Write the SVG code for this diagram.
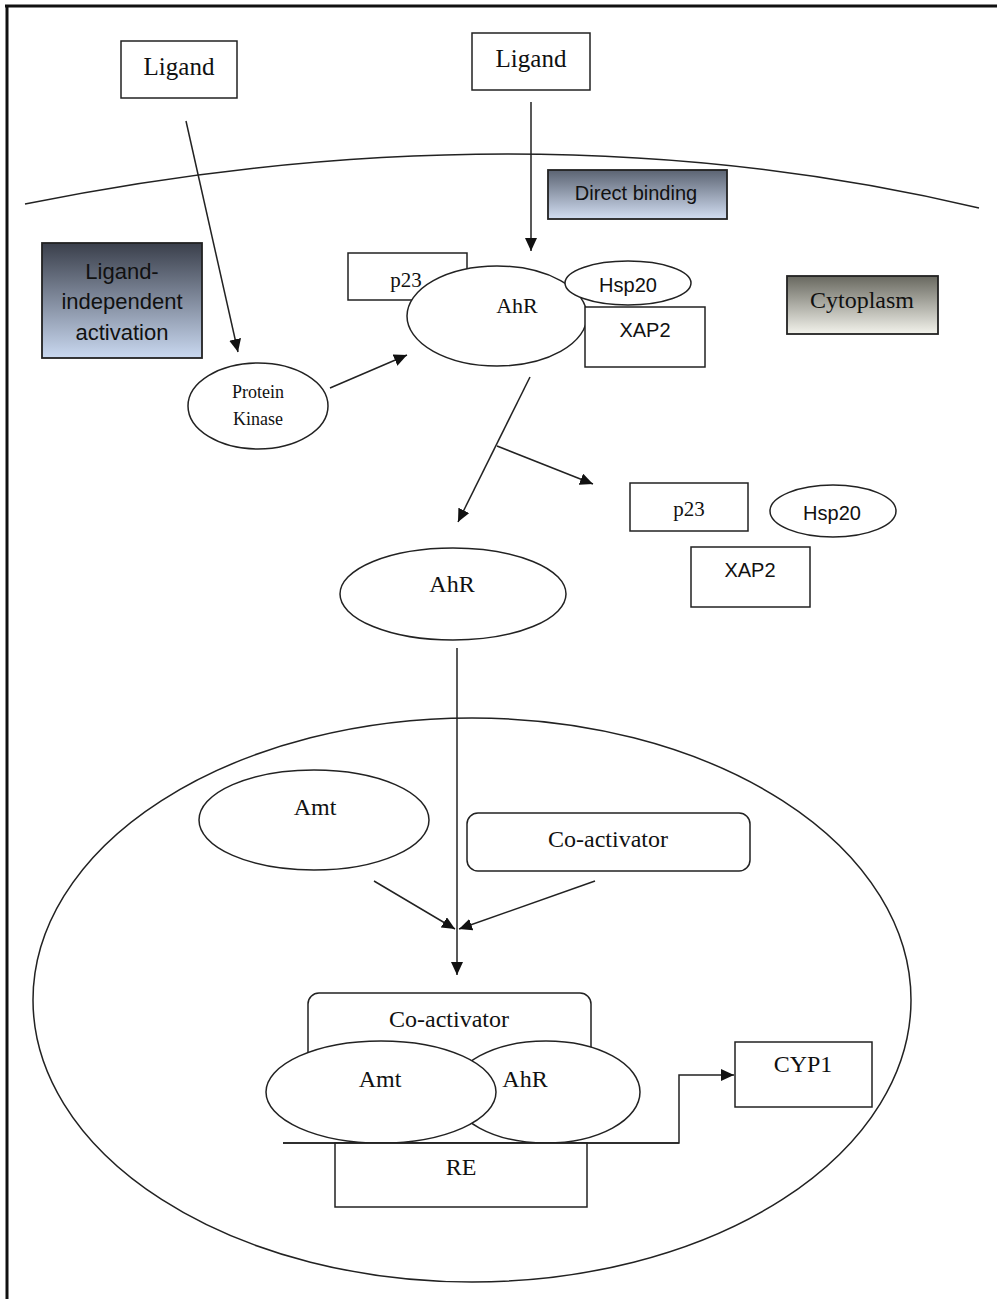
<svg xmlns="http://www.w3.org/2000/svg" width="997" height="1299" viewBox="0 0 997 1299">
<style>
.s{font-family:"Liberation Serif","Times New Roman",serif;fill:#111;text-anchor:middle}
.a{font-family:"Liberation Sans",Arial,sans-serif;fill:#111;text-anchor:middle}
.sh{fill:#fff;stroke:#222;stroke-width:1.5}
.ln{fill:none;stroke:#222;stroke-width:1.5}
.gb{stroke:#222;stroke-width:1.8}
</style>
<defs>
<marker id="ah" markerUnits="userSpaceOnUse" markerWidth="14" markerHeight="12" refX="13" refY="6" orient="auto">
<path d="M0,0 L13,6 L0,12 z" fill="#111"/>
</marker>
<linearGradient id="gBlue" x1="0" y1="0" x2="0" y2="1">
<stop offset="0" stop-color="#3a3f4b"/>
<stop offset="1" stop-color="#c9d8f0"/>
</linearGradient>
<linearGradient id="gBlue2" x1="0" y1="0" x2="0" y2="1">
<stop offset="0" stop-color="#5b6372"/>
<stop offset="1" stop-color="#d2def2"/>
</linearGradient>
<linearGradient id="gGrey" x1="0" y1="0" x2="0" y2="1">
<stop offset="0" stop-color="#68685f"/>
<stop offset="1" stop-color="#f3f3ec"/>
</linearGradient>
</defs>
<rect x="0" y="0" width="997" height="1299" fill="#fff"/>
<g id="frame">
<line x1="5" y1="6" x2="997" y2="6" stroke="#111" stroke-width="3"/>
<line x1="7" y1="5" x2="7" y2="1299" stroke="#111" stroke-width="3"/>
</g>
<g id="membrane"><path class="ln" d="M25 204 Q531 102 979 208" stroke-width="2"/></g>
<g id="nucleus"><ellipse class="ln" cx="472" cy="1000" rx="439" ry="282" stroke-width="1.8"/></g>

<g id="connectors">
<line class="ln" x1="186" y1="121" x2="238" y2="352" marker-end="url(#ah)"/>
<line class="ln" x1="531" y1="102" x2="531" y2="251" marker-end="url(#ah)"/>
<line class="ln" x1="330" y1="388" x2="407" y2="355" marker-end="url(#ah)"/>
<line class="ln" x1="530" y1="377" x2="458" y2="522" marker-end="url(#ah)"/>
<line class="ln" x1="497" y1="446" x2="593" y2="484" marker-end="url(#ah)"/>
<line class="ln" x1="457" y1="648" x2="457" y2="975" marker-end="url(#ah)"/>
<line class="ln" x1="374" y1="881" x2="455" y2="929" marker-end="url(#ah)"/>
<line class="ln" x1="595" y1="881" x2="459" y2="929" marker-end="url(#ah)"/>
<path class="ln" d="M283 1143 H679 V1075 H734" marker-end="url(#ah)"/>
</g>

<g id="ligand1"><rect class="sh" x="121" y="41" width="116" height="57"/><text class="s" x="179" y="75" font-size="25">Ligand</text></g>
<g id="ligand2"><rect class="sh" x="472" y="33" width="118" height="57"/><text class="s" x="531" y="67" font-size="25">Ligand</text></g>
<g id="direct-binding"><rect class="gb" x="548" y="170" width="179" height="49" fill="url(#gBlue2)"/><text class="a" x="636" y="200" font-size="20">Direct binding</text></g>
<g id="ligand-independent"><rect class="gb" x="42" y="243" width="160" height="115" fill="url(#gBlue)"/>
<text class="a" x="122" y="279" font-size="22">Ligand-</text>
<text class="a" x="122" y="309" font-size="22">independent</text>
<text class="a" x="122" y="340" font-size="22">activation</text></g>
<g id="cytoplasm"><rect class="gb" x="787" y="276" width="151" height="58" fill="url(#gGrey)"/><text class="s" x="862" y="308" font-size="24">Cytoplasm</text></g>

<g id="p23-top"><rect class="sh" x="348" y="253" width="119" height="47"/><text class="s" x="406" y="287" font-size="21">p23</text></g>
<g id="ahr-top"><ellipse class="sh" cx="497" cy="316" rx="90" ry="50"/><text class="s" x="517" y="313" font-size="22">AhR</text></g>
<g id="hsp20-top"><ellipse class="sh" cx="628" cy="283" rx="63" ry="22"/><text class="a" x="628" y="292" font-size="20">Hsp20</text></g>
<g id="xap2-top"><rect class="sh" x="585" y="307" width="120" height="60"/><text class="a" x="645" y="337" font-size="20">XAP2</text></g>

<g id="protein-kinase"><ellipse class="sh" cx="258" cy="406" rx="70" ry="43"/>
<text class="s" x="258" y="398" font-size="18">Protein</text>
<text class="s" x="258" y="425" font-size="18">Kinase</text></g>

<g id="p23-free"><rect class="sh" x="630" y="483" width="118" height="48"/><text class="s" x="689" y="516" font-size="21">p23</text></g>
<g id="hsp20-free"><ellipse class="sh" cx="833" cy="511" rx="63" ry="26"/><text class="a" x="832" y="520" font-size="20">Hsp20</text></g>
<g id="xap2-free"><rect class="sh" x="691" y="547" width="119" height="60"/><text class="a" x="750" y="577" font-size="20">XAP2</text></g>

<g id="ahr-mid"><ellipse class="sh" cx="453" cy="594" rx="113" ry="46"/><text class="s" x="452" y="592" font-size="24">AhR</text></g>

<g id="arnt-upper"><ellipse class="sh" cx="314" cy="820" rx="115" ry="50"/><text class="s" x="315" y="815" font-size="24">Amt</text></g>
<g id="coactivator-upper"><rect class="sh" x="467" y="813" width="283" height="58" rx="11"/><text class="s" x="608" y="847" font-size="24">Co-activator</text></g>

<g id="complex">
<rect class="sh" x="308" y="993" width="283" height="70" rx="11"/>
<text class="s" x="449" y="1027" font-size="24">Co-activator</text>
<ellipse class="sh" cx="546" cy="1092" rx="94" ry="51"/>
<ellipse class="sh" cx="381" cy="1092" rx="115" ry="51"/>
<text class="s" x="380" y="1087" font-size="24">Amt</text>
<text class="s" x="525" y="1087" font-size="24">AhR</text>
</g>
<g id="re"><rect class="sh" x="335" y="1143" width="252" height="64"/><line class="ln" x1="283" y1="1143" x2="679" y2="1143"/><text class="s" x="461" y="1175" font-size="24">RE</text></g>
<g id="cyp1"><rect class="sh" x="735" y="1042" width="137" height="65"/><text class="s" x="803" y="1072" font-size="24">CYP1</text></g>
</svg>
